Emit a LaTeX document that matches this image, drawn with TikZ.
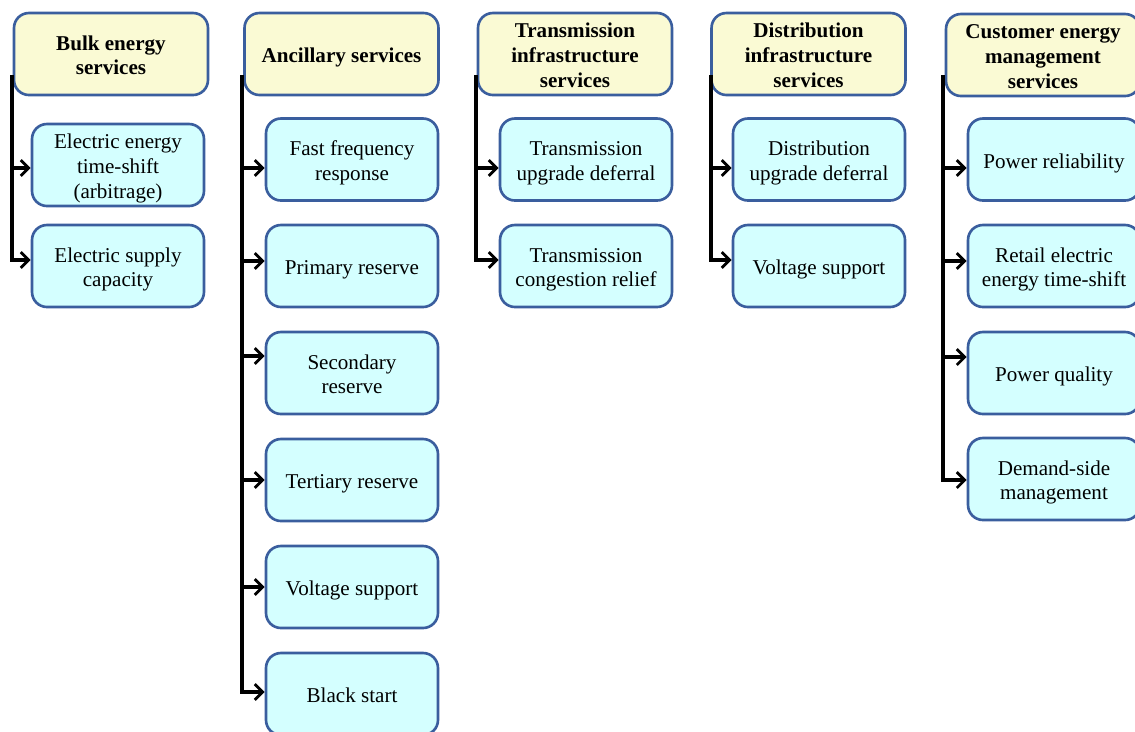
\documentclass[tikz,border=0pt]{standalone}
\usepackage{fontspec}
\setmainfont{Liberation Serif}
\usetikzlibrary{arrows.meta}
\definecolor{bordblue}{RGB}{58,94,158}
\definecolor{headfill}{RGB}{250,250,212}
\definecolor{childfill}{RGB}{212,255,255}
\newcommand\boxtxt[1]{\raisebox{0pt}[\dimexpr\height+2pt\relax][\dimexpr\depth-2pt\relax]{%
  \begin{tabular}{@{}c@{}}#1\end{tabular}}}
\tikzset{
  base/.style={draw=bordblue, line width=1.5pt, rounded corners=8.5pt,
    font=\fontsize{12}{14.2}\selectfont, inner sep=0.5pt},
  headbox/.style={base, fill=headfill, minimum width=3.88cm, minimum height=1.64cm,
    font=\fontsize{12}{14.2}\selectfont\bfseries},
  childbox/.style={base, fill=childfill, minimum width=3.44cm, minimum height=1.64cm},
  arr/.style={draw=black, line width=1.8pt, -{Straight Barb[length=4.5pt,width=9pt,line width=1.6pt]}}
}
\begin{document}
\begin{tikzpicture}[x=0.02cm,y=-0.02cm]
\useasboundingbox (0,0) rectangle (1135,731);
\clip (0,0) rectangle (1135,731);

% headers
\node[headbox] (h1) at (111,54) {\boxtxt{Bulk energy\\services}};
\node[headbox] (h2) at (341.5,54) {\boxtxt{Ancillary services}};
\node[headbox] (h3) at (575,54) {\boxtxt{Transmission\\infrastructure\\services}};
\node[headbox] (h4) at (808.5,54) {\boxtxt{Distribution\\infrastructure\\services}};
\node[headbox] (h5) at (1043,55) {\boxtxt{Customer energy\\management\\services}};

% column 1
\node[childbox] (c11) at (118,165) {\boxtxt{Electric energy\\time-shift\\(arbitrage)}};
\node[childbox] (c12) at (118,266) {\boxtxt{Electric supply\\capacity}};
% column 2
\node[childbox] (c21) at (352,159.5) {\boxtxt{Fast frequency\\response}};
\node[childbox] (c22) at (352,266) {\boxtxt{Primary reserve}};
\node[childbox] (c23) at (352,373) {\boxtxt{Secondary\\reserve}};
\node[childbox] (c24) at (352,480) {\boxtxt{Tertiary reserve}};
\node[childbox] (c25) at (352,587) {\boxtxt{Voltage support}};
\node[childbox] (c26) at (352,694) {\boxtxt{Black start}};
% column 3
\node[childbox] (c31) at (586,159.5) {\boxtxt{Transmission\\upgrade deferral}};
\node[childbox] (c32) at (586,266) {\boxtxt{Transmission\\congestion relief}};
% column 4
\node[childbox] (c41) at (819,159.5) {\boxtxt{Distribution\\upgrade deferral}};
\node[childbox] (c42) at (819,266) {\boxtxt{Voltage support}};
% column 5
\node[childbox] (c51) at (1054,159.5) {\boxtxt{Power reliability}};
\node[childbox] (c52) at (1054,266) {\boxtxt{Retail electric\\energy time-shift}};
\node[childbox] (c53) at (1054,373) {\boxtxt{Power quality}};
\node[childbox] (c54) at (1054,479) {\boxtxt{Demand-side\\management}};

% spine tops
\coordinate (s1) at (12,75);
\coordinate (s2) at (242,75);
\coordinate (s3) at (476,75);
\coordinate (s4) at (711,75);
\coordinate (s5) at (943,75);

% arrow end points on child boxes
\coordinate (a11) at (c11.west |- 0,168);
\coordinate (a12) at (c12.west |- 0,260);
\coordinate (a21) at (c21.west |- 0,168);
\coordinate (a22) at (c22.west |- 0,261);
\coordinate (a23) at (c23.west |- 0,356);
\coordinate (a24) at (c24.west |- 0,480);
\coordinate (a25) at (c25.west |- 0,587);
\coordinate (a26) at (c26.west |- 0,692);
\coordinate (a31) at (c31.west |- 0,168);
\coordinate (a32) at (c32.west |- 0,260);
\coordinate (a41) at (c41.west |- 0,168);
\coordinate (a42) at (c42.west |- 0,260);
\coordinate (a51) at (c51.west |- 0,168);
\coordinate (a52) at (c52.west |- 0,261);
\coordinate (a53) at (c53.west |- 0,357);
\coordinate (a54) at (c54.west |- 0,480);

% connectors
\draw[arr] (s1) |- (a12);
\draw[arr] (s1 |- a11) -- (a11);

\draw[arr] (s2) |- (a26);
\foreach \a in {a21,a22,a23,a24,a25}
  \draw[arr] (s2 |- \a) -- (\a);

\draw[arr] (s3) |- (a32);
\draw[arr] (s3 |- a31) -- (a31);

\draw[arr] (s4) |- (a42);
\draw[arr] (s4 |- a41) -- (a41);

\draw[arr] (s5) |- (a54);
\foreach \a in {a51,a52,a53}
  \draw[arr] (s5 |- \a) -- (\a);
\end{tikzpicture}
\end{document}
